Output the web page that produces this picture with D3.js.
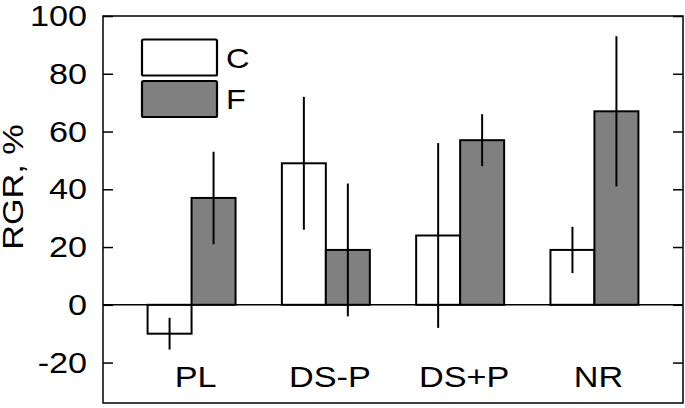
<!DOCTYPE html>
<html>
<head>
<meta charset="utf-8">
<script src="https://cdn.jsdelivr.net/npm/d3@7"></script>
<style>
  body { margin: 0; background: #fff; }
  text { font-family: "Liberation Sans", Arial, sans-serif; fill: #000; }
</style>
</head>
<body>
<div id="container"></div>
<script>
// Chart data
let categories = ["PL", "DS-P", "DS+P", "NR"];
let groups = ["C", "F"];
let valuesC = [-10, 49, 24, 19];
let valuesF = [37, 19, 57, 67];
let errC = [5.5, 23, 32, 8];
let errF = [16, 23, 9, 26];
let yTicks = [-20, 0, 20, 40, 60, 80, 100];

function BuildGraph(){

  let chartWidth = 685;
  let chartHeight = 408;
  let left = 103, right = 683, top = 16, bottom = 403;
  let stretch = 1.14;  // the original text runs wider than Arial

  let svg = d3.select('#container')
    .append('svg')
    .attr('width', chartWidth)
    .attr('height', chartHeight);

  let xScale = d3.scaleBand()
    .domain(categories)
    .range([left, right])
    .paddingInner(0.345)
    .paddingOuter(0.332);

  let xInner = d3.scaleBand()
    .domain(groups)
    .range([0, xScale.bandwidth()]);

  let yScale = d3.scaleLinear()
    .domain([-34, 100])
    .range([bottom, top]);

  // build rows for the bars
  let rows = [];
  categories.forEach((c, i) => {
    rows.push({cat: c, grp: "C", v: valuesC[i], e: errC[i]});
    rows.push({cat: c, grp: "F", v: valuesF[i], e: errF[i]});
  });
  let fill = {C: "#ffffff", F: "#808080"};

  // text placed at x,y and widened a little
  function wideText(g, x, y, str, anchor, size){
    return g.append('text')
      .attr('transform', 'translate(' + x + ',' + y + ') scale(' + stretch + ',1)')
      .attr('text-anchor', anchor)
      .style('font-size', size + 'px')
      .text(str);
  }

  // axes
  let yAxis = d3.axisLeft(yScale)
    .tickValues(yTicks)
    .tickSize(-10)
    .tickFormat((d) => String(d))
    .tickPadding(14);
  let gy = svg.append('g')
    .attr('transform', 'translate(' + left + ',0)')
    .call(yAxis);
  gy.select('.domain').remove();
  gy.selectAll('.tick line').attr('stroke', '#000').attr('stroke-width', 1.5);
  gy.selectAll('.tick text')
    .attr('transform', 'scale(' + stretch + ',1)')
    .style('font-size', '30px')
    .style('font-family', '"Liberation Sans", Arial, sans-serif');

  let yAxisR = d3.axisRight(yScale)
    .tickValues(yTicks)
    .tickSize(-10)
    .tickFormat('');
  let gr = svg.append('g')
    .attr('transform', 'translate(' + right + ',0)')
    .call(yAxisR);
  gr.select('.domain').remove();
  gr.selectAll('.tick line').attr('stroke', '#000').attr('stroke-width', 1.5);

  // bars
  svg.append('g')
    .selectAll('rect')
    .data(rows)
    .enter()
    .append('rect')
    .attr('x', (d) => xScale(d.cat) + xInner(d.grp))
    .attr('y', (d) => yScale(Math.max(0, d.v)))
    .attr('width', xInner.bandwidth())
    .attr('height', (d) => Math.abs(yScale(d.v) - yScale(0)))
    .attr('fill', (d) => fill[d.grp])
    .attr('stroke', '#000')
    .attr('stroke-width', 2);

  // error bars
  svg.append('g')
    .selectAll('line')
    .data(rows)
    .enter()
    .append('line')
    .attr('x1', (d) => xScale(d.cat) + xInner(d.grp) + xInner.bandwidth() / 2)
    .attr('x2', (d) => xScale(d.cat) + xInner(d.grp) + xInner.bandwidth() / 2)
    .attr('y1', (d) => yScale(d.v + d.e))
    .attr('y2', (d) => yScale(d.v - d.e))
    .attr('stroke', '#000')
    .attr('stroke-width', 2);

  // zero line
  svg.append('line')
    .attr('x1', left).attr('x2', right)
    .attr('y1', yScale(0)).attr('y2', yScale(0))
    .attr('stroke', '#000')
    .attr('stroke-width', 1.5);

  // frame
  svg.append('rect')
    .attr('x', left).attr('y', top)
    .attr('width', right - left).attr('height', bottom - top)
    .attr('fill', 'none')
    .attr('stroke', '#000')
    .attr('stroke-width', 1.5);

  // category labels
  let gx = svg.append('g');
  categories.forEach((c) => {
    wideText(gx, xScale(c) + xScale.bandwidth() / 2 + 4, 387, c, 'middle', 30);
  });

  // y label
  svg.append('text')
    .attr('transform', 'translate(23,187) rotate(-90) scale(' + stretch + ',1)')
    .attr('text-anchor', 'middle')
    .style('font-size', '30px')
    .text('RGR, %');

  // legend
  let legend = svg.append('g');
  groups.forEach((g, i) => {
    legend.append('rect')
      .attr('x', 142)
      .attr('y', 39.5 + i * 41.5)
      .attr('width', 75)
      .attr('height', 36)
      .attr('rx', 1.5)
      .attr('fill', fill[g])
      .attr('stroke', '#000')
      .attr('stroke-width', 2.2);
    wideText(legend, 226, 68 + i * 41, g, 'start', 28.5);
  });
}

BuildGraph();
</script>
</body>
</html>
